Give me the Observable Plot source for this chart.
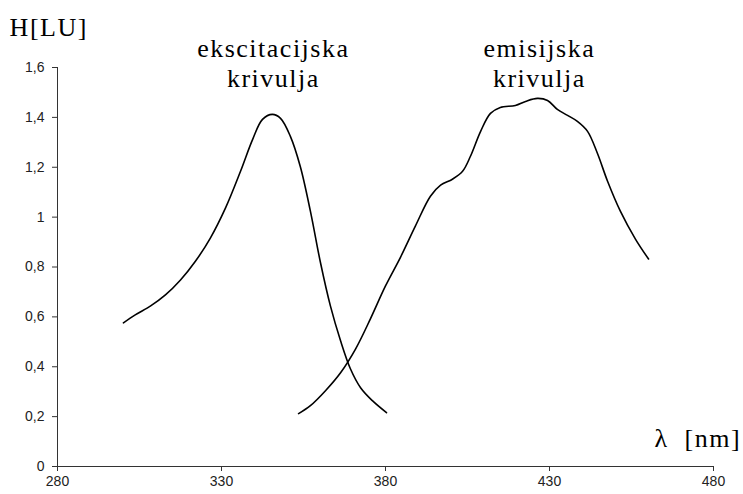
<!DOCTYPE html>
<html>
<head>
<meta charset="utf-8">
<script src="https://cdn.jsdelivr.net/npm/d3@7"></script>
<script src="https://cdn.jsdelivr.net/npm/@observablehq/plot@0.6"></script>
<style>
  html, body { margin: 0; padding: 0; background: #fff; }
</style>
</head>
<body>
<div id="chart"></div>
<script>
// Excitation curve (wavelength nm, intensity LU)
const excWave = [300.1, 303.7, 308.4, 312.9, 317.5, 322.1, 326.6, 331.2, 335.8, 339.5, 342.5, 345.5, 348.0, 351.0, 354.0, 357.1, 360.2, 363.2, 366.3, 369.3, 372.4, 376.0, 380.3];
const excValue = [0.576, 0.608, 0.644, 0.688, 0.748, 0.824, 0.916, 1.036, 1.184, 1.312, 1.392, 1.412, 1.396, 1.324, 1.204, 1.024, 0.816, 0.644, 0.504, 0.392, 0.316, 0.264, 0.216];

// Emission curve
const emWave = [353.5, 357.1, 361.7, 366.3, 370.9, 375.4, 380.0, 384.6, 389.1, 393.7, 396.8, 400.4, 403.5, 405.9, 409.0, 412.0, 415.0, 419.6, 422.7, 426.3, 429.4, 432.4, 435.5, 438.5, 441.6, 444.6, 447.7, 451.6, 456.2, 460.2];
const emValue = [0.212, 0.244, 0.304, 0.376, 0.472, 0.592, 0.724, 0.840, 0.964, 1.084, 1.128, 1.152, 1.184, 1.244, 1.344, 1.416, 1.440, 1.448, 1.464, 1.476, 1.468, 1.432, 1.408, 1.384, 1.344, 1.256, 1.144, 1.024, 0.912, 0.832];

// Tick labels
const xTicks = [280, 330, 380, 430, 480];
const yTicks = [0, 0.2, 0.4, 0.6, 0.8, 1, 1.2, 1.4, 1.6];

// Texts
const yLabel = "H[LU]";
const xLabel = "λ  [nm]";
const excLabel = ["ekscitacijska", "krivulja"];
const emLabel = ["emisijska", "krivulja"];

const excData = excWave.map((x, i) => ({x, y: excValue[i]}));
const emData = emWave.map((x, i) => ({x, y: emValue[i]}));

const serif = "Liberation Serif";
const sans = "'Liberation Sans', Arial, sans-serif";
const lbl = {className: "serif-label", fontFamily: serif, fontSize: 26, fill: "#000"};

const chart = Plot.plot({
  width: 743,
  height: 494,
  marginLeft: 57,
  marginRight: 30,
  marginTop: 67,
  marginBottom: 28,
  style: {fontFamily: sans, background: "#fff", overflow: "visible"},
  x: {type: "linear", domain: [280, 480]},
  y: {type: "linear", domain: [0, 1.6]},
  marks: [
    Plot.axisX({ticks: xTicks, tickSize: 5, tickPadding: 5, label: null, fontSize: 14, tickFormat: d => String(d), stroke: "#333", color: "#222"}),
    Plot.axisY({ticks: yTicks, tickSize: 5, tickPadding: 8, label: null, fontSize: 14, tickFormat: d => String(d).replace(".", ","), stroke: "#333", color: "#222"}),
    Plot.ruleY([0], {stroke: "#333"}),
    Plot.ruleX([280], {stroke: "#333"}),
    Plot.line(excData, {x: "x", y: "y", stroke: "#000", strokeWidth: 1.6, curve: "catmull-rom"}),
    Plot.line(emData, {x: "x", y: "y", stroke: "#000", strokeWidth: 1.6, curve: "catmull-rom"}),
    Plot.text(excLabel, {x: [345.8, 345.8], y: [1.676, 1.556], text: d => d, textAnchor: "middle", ...lbl}),
    Plot.text(emLabel, {x: [426.9, 426.9], y: [1.676, 1.556], text: d => d, textAnchor: "middle", ...lbl}),
    Plot.text([yLabel], {x: [265.4], y: [1.76], textAnchor: "start", ...lbl}),
    Plot.text([xLabel], {x: [488.4], y: [0.112], textAnchor: "end", ...lbl})
  ]
});

d3.select(chart).selectAll(".serif-label text")
  .style("font-family", "'Liberation Serif', 'DejaVu Serif', serif")
  .style("letter-spacing", "1.5px");
document.getElementById("chart").appendChild(chart);
</script>
</body>
</html>
